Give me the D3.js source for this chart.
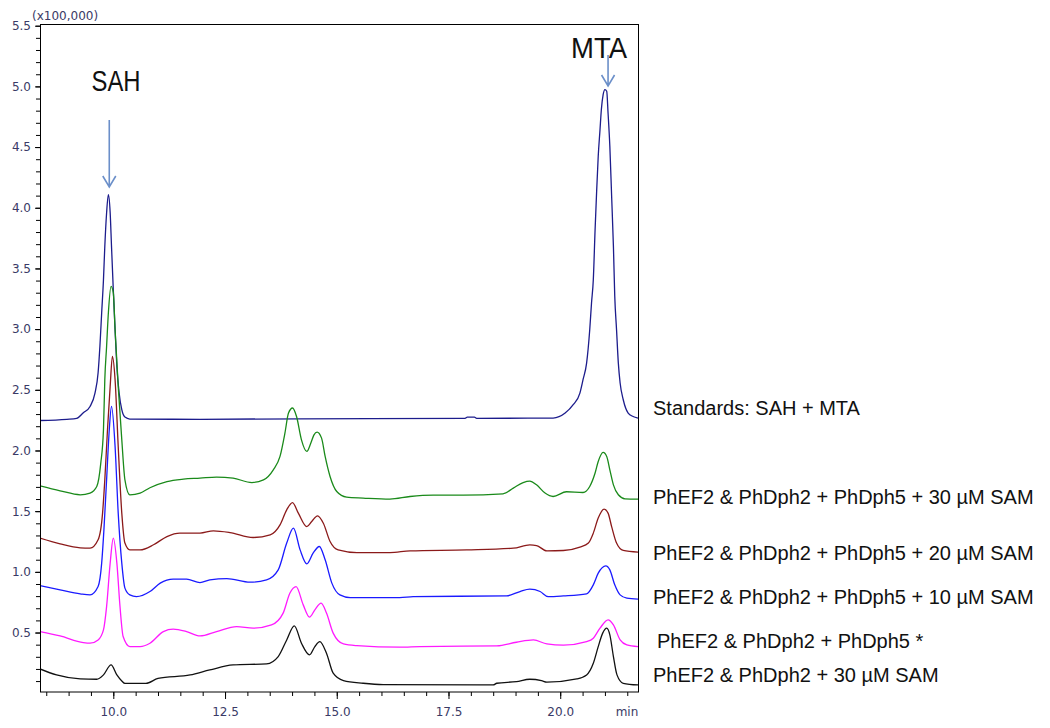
<!DOCTYPE html>
<meta charset="utf-8">
<title>SAH / MTA chromatograms</title>
<body>
<script src="https://d3js.org/d3.v7.min.js"></script>
<style>
html, body {
    margin: 0;
    background: #fff;
}

svg {
    display: block;
}

.axis text, .axis-note {
    font-family: "DejaVu Sans", sans-serif;
    font-size: 12px;
    fill: #3a3a66;
}

.axis line {
    stroke: #000;
}

.label {
    font-family: "Liberation Sans", Arial, sans-serif;
    font-size: 20px;
    fill: #111;
}

.peak {
    font-family: "Liberation Sans", Arial, sans-serif;
    font-size: 29px;
    fill: #111;
}
</style>
<script>
// retention time (min), intensity (x100,000)
var standards = [
    [8.36, 2.247], [8.96, 2.257], [9.18, 2.265], [9.33, 2.311], [9.48, 2.363], [9.59, 2.473],
    [9.66, 2.641], [9.70, 2.857], [9.74, 3.135], [9.78, 3.407], [9.81, 3.682], [9.85, 3.957],
    [9.89, 4.108], [9.93, 3.960], [9.96, 3.682], [10.00, 3.325], [10.04, 2.995], [10.08, 2.692],
    [10.13, 2.476], [10.19, 2.336], [10.26, 2.275], [10.37, 2.259], [11.94, 2.257], [14.18, 2.261],
    [17.87, 2.265], [17.92, 2.275], [18.08, 2.275], [18.13, 2.265], [19.84, 2.267], [20.11, 2.308],
    [20.29, 2.377], [20.44, 2.473], [20.51, 2.583], [20.59, 2.720], [20.66, 2.995], [20.70, 3.215],
    [20.74, 3.407], [20.78, 3.820], [20.81, 4.094], [20.85, 4.424], [20.89, 4.644], [20.92, 4.809],
    [20.96, 4.932], [21.00, 4.974], [21.04, 4.960], [21.07, 4.781], [21.11, 4.506], [21.15, 4.094],
    [21.19, 3.682], [21.22, 3.270], [21.26, 2.995], [21.30, 2.720], [21.34, 2.556], [21.41, 2.418],
    [21.52, 2.308], [21.63, 2.280], [21.74, 2.267]
];

var sam30 = [
    [8.36, 1.709], [8.81, 1.668], [9.26, 1.635], [9.48, 1.649], [9.63, 1.703], [9.72, 1.896],
    [9.78, 2.171], [9.81, 2.583], [9.85, 2.857], [9.89, 3.135], [9.95, 3.352], [10.00, 3.300],
    [10.04, 2.995], [10.11, 2.528], [10.19, 2.088], [10.26, 1.758], [10.37, 1.635], [10.60, 1.649],
    [10.82, 1.693], [11.20, 1.744], [11.57, 1.764], [11.94, 1.772], [12.31, 1.781], [12.68, 1.772],
    [13.10, 1.736], [13.36, 1.758], [13.58, 1.841], [13.73, 1.951], [13.84, 2.143], [13.92, 2.308],
    [14.01, 2.350], [14.10, 2.280], [14.21, 2.088], [14.33, 1.992], [14.42, 2.061], [14.49, 2.129],
    [14.56, 2.152], [14.66, 2.102], [14.74, 1.951], [14.85, 1.786], [15.00, 1.662], [15.22, 1.616],
    [15.59, 1.608], [16.19, 1.599], [16.64, 1.621], [17.16, 1.632], [17.83, 1.632], [18.72, 1.643],
    [18.95, 1.690], [19.17, 1.736], [19.32, 1.748], [19.47, 1.717], [19.66, 1.649], [19.84, 1.621],
    [20.14, 1.660], [20.51, 1.654], [20.66, 1.703], [20.78, 1.814], [20.85, 1.909], [20.96, 1.984],
    [21.04, 1.951], [21.11, 1.841], [21.19, 1.717], [21.30, 1.635], [21.45, 1.602], [21.74, 1.599]
];

var sam20 = [
    [8.36, 1.278], [8.81, 1.231], [9.26, 1.198], [9.48, 1.195], [9.66, 1.264], [9.76, 1.484],
    [9.81, 1.758], [9.87, 2.171], [9.93, 2.528], [9.98, 2.775], [10.04, 2.583], [10.11, 2.033],
    [10.19, 1.484], [10.26, 1.237], [10.37, 1.181], [10.60, 1.181], [10.90, 1.223], [11.20, 1.291],
    [11.49, 1.319], [11.94, 1.319], [12.24, 1.338], [12.61, 1.324], [13.13, 1.283], [13.51, 1.305],
    [13.73, 1.387], [13.88, 1.511], [14.01, 1.571], [14.14, 1.484], [14.33, 1.373], [14.44, 1.415],
    [14.57, 1.462], [14.70, 1.401], [14.85, 1.250], [15.03, 1.181], [15.45, 1.159], [16.19, 1.159],
    [16.64, 1.173], [17.91, 1.181], [18.95, 1.195], [19.32, 1.223], [19.47, 1.217], [19.70, 1.173],
    [20.07, 1.176], [20.44, 1.204], [20.63, 1.237], [20.74, 1.319], [20.85, 1.443], [20.98, 1.517],
    [21.07, 1.484], [21.15, 1.373], [21.26, 1.237], [21.41, 1.176], [21.74, 1.162]
];

var sam10 = [
    [8.36, 0.887], [8.81, 0.852], [9.26, 0.819], [9.48, 0.810], [9.66, 0.879], [9.74, 1.072],
    [9.79, 1.346], [9.85, 1.758], [9.91, 2.171], [9.96, 2.363], [10.04, 2.033], [10.11, 1.484],
    [10.19, 1.072], [10.26, 0.866], [10.37, 0.810], [10.52, 0.796], [10.82, 0.838], [11.05, 0.907],
    [11.34, 0.940], [11.64, 0.940], [11.94, 0.912], [12.16, 0.934], [12.54, 0.945], [13.06, 0.915],
    [13.43, 0.934], [13.69, 1.016], [13.88, 1.237], [14.03, 1.360], [14.18, 1.181], [14.33, 1.066],
    [14.47, 1.154], [14.61, 1.209], [14.74, 1.099], [14.89, 0.907], [15.07, 0.810], [15.30, 0.788],
    [16.41, 0.788], [16.71, 0.796], [18.80, 0.802], [19.10, 0.838], [19.32, 0.857], [19.55, 0.838],
    [19.73, 0.796], [20.07, 0.802], [20.59, 0.819], [20.74, 0.893], [20.85, 0.989], [21.02, 1.049],
    [21.11, 1.016], [21.22, 0.893], [21.34, 0.810], [21.49, 0.783], [21.74, 0.775]
];

var noSam = [
    [8.36, 0.508], [8.81, 0.472], [9.33, 0.417], [9.48, 0.412], [9.66, 0.439], [9.78, 0.522],
    [9.85, 0.714], [9.93, 1.072], [10.00, 1.278], [10.08, 1.072], [10.15, 0.714], [10.22, 0.467],
    [10.37, 0.384], [10.60, 0.384], [10.82, 0.412], [11.12, 0.508], [11.34, 0.528], [11.64, 0.508],
    [11.94, 0.472], [12.31, 0.508], [12.76, 0.549], [13.13, 0.536], [13.54, 0.563], [13.80, 0.660],
    [13.95, 0.824], [14.09, 0.879], [14.25, 0.728], [14.39, 0.627], [14.51, 0.687], [14.65, 0.742],
    [14.77, 0.660], [14.92, 0.495], [15.15, 0.406], [15.45, 0.392], [16.41, 0.379], [16.86, 0.384],
    [18.58, 0.390], [19.02, 0.420], [19.40, 0.439], [19.70, 0.406], [20.07, 0.396], [20.59, 0.425],
    [20.74, 0.453], [20.89, 0.536], [21.07, 0.604], [21.19, 0.563], [21.34, 0.439], [21.49, 0.398],
    [21.74, 0.384]
];

var noDph5 = [
    [8.36, 0.200], [8.73, 0.151], [9.26, 0.118], [9.63, 0.115], [9.78, 0.151], [9.95, 0.233],
    [10.08, 0.151], [10.19, 0.101], [10.26, 0.081], [10.73, 0.081], [11.00, 0.122], [11.72, 0.151],
    [12.16, 0.192], [12.68, 0.233], [13.43, 0.242], [13.69, 0.302], [13.88, 0.439], [14.05, 0.555],
    [14.21, 0.412], [14.39, 0.316], [14.51, 0.384], [14.62, 0.425], [14.77, 0.330], [14.92, 0.165],
    [15.15, 0.104], [15.59, 0.082], [16.04, 0.071], [18.50, 0.068], [18.58, 0.082], [19.02, 0.096],
    [19.32, 0.115], [19.58, 0.104], [19.70, 0.091], [20.37, 0.118], [20.59, 0.151], [20.74, 0.247],
    [20.85, 0.384], [20.95, 0.495], [21.04, 0.536], [21.11, 0.481], [21.19, 0.302], [21.27, 0.151],
    [21.41, 0.082], [21.74, 0.068]
];

var series = [standards, sam30, sam20, sam10, noSam, noDph5];
var colors = ["#1c1c8c", "#1a8a1a", "#8b1a1a", "#1a1aff", "#ff1aff", "#111111"];
var labels = [
    "Standards: SAH + MTA",
    "PhEF2 & PhDph2 + PhDph5 + 30 \u00b5M SAM",
    "PhEF2 & PhDph2 + PhDph5 + 20 \u00b5M SAM",
    "PhEF2 & PhDph2 + PhDph5 + 10 \u00b5M SAM",
    "PhEF2 & PhDph2 + PhDph5 *",
    "PhEF2 & PhDph2 + 30 \u00b5M SAM"
];
var peakNames = ["SAH", "MTA"];
var peakTimes = [9.91, 21.07];
var xMajor = [10, 12.5, 15, 17.5, 20];

// layout
var width = 1050,
    height = 728,
    plotL = 40,
    plotR = 638,
    plotT = 24.5,
    plotB = 692,
    labelX = [653, 653, 653, 653, 657, 653],
    labelY = [415, 504, 560, 604, 648, 682],
    peakLayout = [
        {tx: 116, ty: 91, w: 49, y1: 120, y2: 187},
        {tx: 599, ty: 58, w: 56, y1: 55, y2: 86}
    ];

var x = d3.scaleLinear().domain([8.36, 21.74]).range([plotL, plotR]);
var y = d3.scaleLinear().domain([0.01, 5.51]).range([plotB, plotT]);

var svg = d3.select("body").append("svg")
    .attr("width", width)
    .attr("height", height);

svg.append("clipPath")
    .attr("id", "plot")
    .append("rect")
    .attr("x", plotL)
    .attr("y", plotT)
    .attr("width", plotR - plotL)
    .attr("height", plotB - plotT);

// y axis: minor ticks every 0.1, labels every 0.5
svg.append("g")
    .attr("class", "axis")
    .attr("transform", "translate(" + plotL + ",0)")
    .call(d3.axisLeft(y)
        .tickValues(d3.range(1, 56).map(function(i) { return i / 10; }))
        .tickSize(4)
        .tickFormat(""))
    .call(function(g) { g.select(".domain").remove(); });

svg.append("g")
    .attr("class", "axis")
    .attr("transform", "translate(" + plotL + ",0)")
    .call(d3.axisLeft(y)
        .tickValues(d3.range(1, 12).map(function(i) { return i / 2; }))
        .tickSize(5)
        .tickPadding(4)
        .tickFormat(d3.format(".1f")))
    .call(function(g) { g.select(".domain").remove(); });

// x axis: minor ticks every 0.5 min
svg.append("g")
    .attr("class", "axis")
    .attr("transform", "translate(0," + plotB + ")")
    .call(d3.axisBottom(x)
        .tickValues(d3.range(17, 44).map(function(i) { return i / 2; }))
        .tickSize(4)
        .tickFormat(""))
    .call(function(g) { g.select(".domain").remove(); });

svg.append("g")
    .attr("class", "axis")
    .attr("transform", "translate(0," + plotB + ")")
    .call(d3.axisBottom(x)
        .tickValues(xMajor)
        .tickSize(7)
        .tickPadding(8)
        .tickFormat(d3.format(".1f")))
    .call(function(g) { g.select(".domain").remove(); });

svg.append("text")
    .attr("class", "axis-note")
    .attr("x", 627)
    .attr("y", 716)
    .attr("text-anchor", "middle")
    .text("min");

svg.append("text")
    .attr("class", "axis-note")
    .attr("x", 32)
    .attr("y", 20)
    .text("(x100,000)");

// traces
var line = d3.line()
    .x(function(d) { return x(d[0]); })
    .y(function(d) { return y(d[1]); })
    .curve(d3.curveMonotoneX);

svg.append("g")
    .attr("clip-path", "url(#plot)")
    .selectAll("path")
    .data(series)
    .enter().append("path")
    .attr("fill", "none")
    .attr("stroke", function(d, i) { return colors[i]; })
    .attr("stroke-width", 1.3)
    .attr("d", line);

svg.append("rect")
    .attr("x", plotL + 0.5)
    .attr("y", plotT)
    .attr("width", plotR - plotL)
    .attr("height", plotB - plotT)
    .attr("fill", "none")
    .attr("stroke", "#000")
    .attr("stroke-width", 1);

// trace labels
svg.selectAll(".label")
    .data(labels)
    .enter().append("text")
    .attr("class", "label")
    .attr("x", function(d, i) { return labelX[i]; })
    .attr("y", function(d, i) { return labelY[i]; })
    .text(function(d) { return d; });

// peak names and arrows
peakNames.forEach(function(name, i) {
    var p = peakLayout[i],
        ax = x(peakTimes[i]);

    svg.append("text")
        .attr("class", "peak")
        .attr("x", p.tx)
        .attr("y", p.ty)
        .attr("text-anchor", "middle")
        .attr("textLength", p.w)
        .attr("lengthAdjust", "spacingAndGlyphs")
        .text(name);

    svg.append("path")
        .attr("fill", "none")
        .attr("stroke", "#6b8fc9")
        .attr("stroke-width", 1.6)
        .attr("d", "M" + ax + "," + p.y1 + "V" + p.y2 +
            "M" + (ax - 6.5) + "," + (p.y2 - 11) + "L" + ax + "," + p.y2 + "L" + (ax + 6.5) + "," + (p.y2 - 11));
});
</script>
